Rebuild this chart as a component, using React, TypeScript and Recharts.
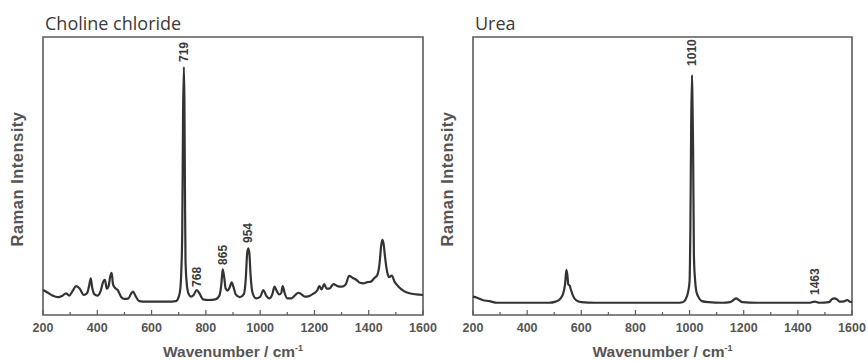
import React from 'react'
import { LineChart, Line, XAxis, YAxis, ReferenceArea, ReferenceDot } from 'recharts'

// Choline chloride spectrum (wavenumber cm-1, relative intensity)
const cholineWn = [
  200, 215, 235, 255, 270, 285, 297, 310, 322, 335, 350, 362, 370, 376, 381, 390, 400, 413, 420, 428,
  435, 442, 448, 453, 458, 465, 475, 488, 500, 515, 525, 532, 540, 555, 580, 620, 660, 690, 700, 706,
  710, 713, 716, 719, 721, 723, 725, 729, 735, 745, 755, 766, 775, 790, 810, 835, 850, 857, 862, 867,
  873, 880, 888, 895, 902, 910, 925, 940, 947, 952, 956, 960, 965, 972, 985, 1000, 1012, 1022, 1035, 1045,
  1053, 1062, 1070, 1078, 1083, 1090, 1100, 1115, 1130, 1140, 1150, 1165, 1180, 1195, 1210, 1218, 1226, 1236, 1245, 1255,
  1270, 1285, 1300, 1315, 1328, 1340, 1355, 1368, 1380, 1395, 1408, 1420, 1432, 1440, 1446, 1450, 1455, 1460, 1468, 1475,
  1485, 1495, 1510, 1530, 1550, 1575, 1600,
]
const cholineInt = [
  9.0, 8.2, 7.0, 6.4, 6.8, 7.8, 7.0, 8.8, 10.4, 9.5, 7.2, 7.8, 10.5, 13.2, 10.0, 7.4, 7.0, 8.8, 11.5, 12.6,
  9.5, 10.5, 14.0, 15.2, 11.0, 9.8, 9.0, 6.5, 5.8, 6.0, 7.8, 8.4, 7.0, 5.0, 4.8, 4.8, 4.8, 5.0, 6.5, 9.5,
  17.0, 30.0, 72.0, 89.2, 77.0, 45.0, 20.0, 12.0, 8.0, 6.6, 7.2, 9.0, 8.0, 5.6, 5.4, 5.6, 7.0, 11.0, 16.4, 14.0,
  9.5, 8.8, 10.0, 11.7, 10.0, 7.4, 6.4, 7.5, 13.0, 22.0, 24.0, 22.5, 14.0, 8.0, 6.0, 6.5, 9.0, 7.0, 6.0, 7.5,
  10.2, 8.5, 7.4, 8.0, 10.4, 8.0, 6.0, 6.0, 7.2, 8.0, 7.6, 6.6, 6.8, 7.6, 8.8, 10.4, 9.2, 11.1, 9.5, 9.5,
  11.1, 10.4, 10.2, 11.0, 14.1, 13.4, 12.6, 11.6, 11.4, 11.8, 12.0, 13.2, 14.5, 18.6, 25.0, 27.0, 25.5, 21.0, 15.5, 13.6,
  14.2, 12.0, 10.2, 8.6, 7.8, 7.4, 7.2,
]

// Urea spectrum
const ureaWn = [
  200, 215, 235, 260, 290, 350, 420, 480, 505, 520, 532, 540, 545, 549, 552, 557, 562, 570, 580, 600,
  650, 750, 850, 950, 975, 985, 995, 1000, 1003, 1006, 1009, 1011, 1013, 1016, 1020, 1025, 1032, 1045, 1070, 1120,
  1150, 1162, 1172, 1182, 1195, 1250, 1350, 1440, 1463, 1480, 1515, 1525, 1535, 1545, 1555, 1570, 1582, 1592, 1600,
]
const ureaInt = [
  6.6, 6.2, 5.4, 5.0, 4.4, 4.4, 4.4, 4.4, 4.8, 5.6, 7.4, 11.0, 16.2, 14.0, 11.0, 10.6, 9.0, 6.8, 5.4, 4.6,
  4.4, 4.4, 4.4, 4.4, 4.6, 5.6, 8.5, 12.2, 31.8, 69.4, 86.3, 75.0, 60.4, 21.6, 13.0, 8.5, 6.6, 5.0, 4.6, 4.4,
  4.6, 5.4, 6.0, 5.4, 4.6, 4.4, 4.4, 4.4, 4.8, 4.4, 4.6, 5.6, 6.0, 5.6, 4.8, 4.9, 5.4, 4.8, 4.6,
]

// peak annotations: position, label anchor intensity
const cholinePeakWn = [719, 768, 865, 954]
const cholinePeakAt = [91, 10.1, 18.0, 25.9]
const ureaPeakWn = [1010, 1463]
const ureaPeakAt = [89.6, 7.2]

const xTicks = [200, 300, 400, 500, 600, 700, 800, 900, 1000, 1100, 1200, 1300, 1400, 1500, 1600]

const TICK_COLOR = '#555'
const FRAME = '#5c5c5c'
const LINE = '#333'

function AxisTick(props: any) {
  const { x, y, payload } = props
  const major = payload.value % 200 === 0
  return (
    <g>
      <line x1={x} y1={y} x2={x} y2={y - (major ? 5 : 3)} stroke={FRAME} strokeWidth={1.2} />
      {major && (
        <text
          x={x}
          y={y + 17}
          textAnchor="middle"
          fontFamily="'Liberation Sans', Arial, sans-serif"
          fontWeight="bold"
          fontSize={12.5}
          fill={TICK_COLOR}
        >
          {payload.value}
        </text>
      )}
    </g>
  )
}

function XTitle(props: any) {
  const vb = props.viewBox
  if (!vb) return null
  const cx = vb.x + vb.width / 2
  const y = vb.y + 42
  return (
    <text
      x={cx}
      y={y}
      textAnchor="middle"
      fontFamily="'Liberation Sans', Arial, sans-serif"
      fontWeight="bold"
      fontSize={15.5}
      fill={TICK_COLOR}
    >
      Wavenumber / cm
      <tspan fontSize={9} dy={-6}>
        -1
      </tspan>
    </text>
  )
}

function YTitle(props: any) {
  const vb = props.viewBox
  if (!vb) return null
  const x = vb.x + vb.width - 26
  const y = vb.y + vb.height / 2 + 3
  return (
    <text
      x={x}
      y={y}
      transform={`rotate(-90 ${x} ${y})`}
      textAnchor="middle"
      dominantBaseline="central"
      fontFamily="'Liberation Sans', Arial, sans-serif"
      fontWeight="bold"
      fontSize={16.5}
      letterSpacing={0.5}
      fill={TICK_COLOR}
    >
      Raman Intensity
    </text>
  )
}

function PeakLabel(props: any) {
  const vb = props.viewBox
  if (!vb) return null
  const x = vb.x + (vb.width || 0) / 2
  const y = vb.y + (vb.height || 0) / 2
  return (
    <text
      x={x}
      y={y}
      transform={`rotate(-90 ${x} ${y})`}
      textAnchor="start"
      dominantBaseline="central"
      fontFamily="'Liberation Sans', Arial, sans-serif"
      fontWeight="bold"
      fontSize={12}
      fill="#3a3a3a"
    >
      {props.text}
    </text>
  )
}

interface PanelProps {
  title: string
  wn: number[]
  intensity: number[]
  peakWn: number[]
  peakAt: number[]
  left: number
  width: number
  plotLeft: number
  plotRight: number
}

function Panel({ title, wn, intensity, peakWn, peakAt, left, width, plotLeft, plotRight }: PanelProps) {
  const data = wn.map((w, i) => ({ w, v: intensity[i] }))
  // axes need a non-zero size to be drawn, so they take 1px each
  const margin = { top: 37, right: width - plotRight, bottom: 45, left: plotLeft - 1 }
  return (
    <div style={{ position: 'absolute', left, top: 0, width, height: 361 }}>
      <div
        style={{
          position: 'absolute',
          left: plotLeft + 2,
          top: 11,
          fontFamily: "'Open Sans', 'Noto Sans', sans-serif",
          fontSize: 18,
          lineHeight: '24px',
          color: '#3a3a3a',
          whiteSpace: 'nowrap',
        }}
      >
        {title}
      </div>
      <LineChart width={width} height={361} data={data} margin={margin}>
        <XAxis
          dataKey="w"
          type="number"
          domain={[200, 1600]}
          ticks={xTicks}
          interval={0}
          height={1}
          axisLine={false}
          tickLine={false}
          tickSize={0}
          tickMargin={0}
          tick={(p: any) => <AxisTick {...p} />}
          label={(p: any) => <XTitle {...p} />}
        />
        <YAxis
          type="number"
          domain={[0, 100]}
          width={1}
          axisLine={false}
          tickLine={false}
          tick={false}
          label={(p: any) => <YTitle {...p} />}
        />
        <ReferenceArea x1={200} x2={1600} y1={0} y2={100} fill="none" stroke={FRAME} strokeWidth={1.6} />
        <Line
          type="monotone"
          dataKey="v"
          stroke={LINE}
          strokeWidth={2.2}
          dot={false}
          isAnimationActive={false}
        />
        {peakWn.map((p, i) => (
          <ReferenceDot
            key={p}
            x={p}
            y={peakAt[i]}
            r={0}
            fill="none"
            stroke="none"
            label={(lp: any) => <PeakLabel {...lp} text={String(p)} />}
          />
        ))}
      </LineChart>
    </div>
  )
}

export default function App() {
  return (
    <div style={{ position: 'absolute', left: 0, top: 0, width: 868, height: 361, background: '#fff' }}>
      <Panel
        title="Choline chloride"
        wn={cholineWn}
        intensity={cholineInt}
        peakWn={cholinePeakWn}
        peakAt={cholinePeakAt}
        left={0}
        width={440}
        plotLeft={43}
        plotRight={423}
      />
      <Panel
        title="Urea"
        wn={ureaWn}
        intensity={ureaInt}
        peakWn={ureaPeakWn}
        peakAt={ureaPeakAt}
        left={434}
        width={434}
        plotLeft={39}
        plotRight={418}
      />
    </div>
  )
}
